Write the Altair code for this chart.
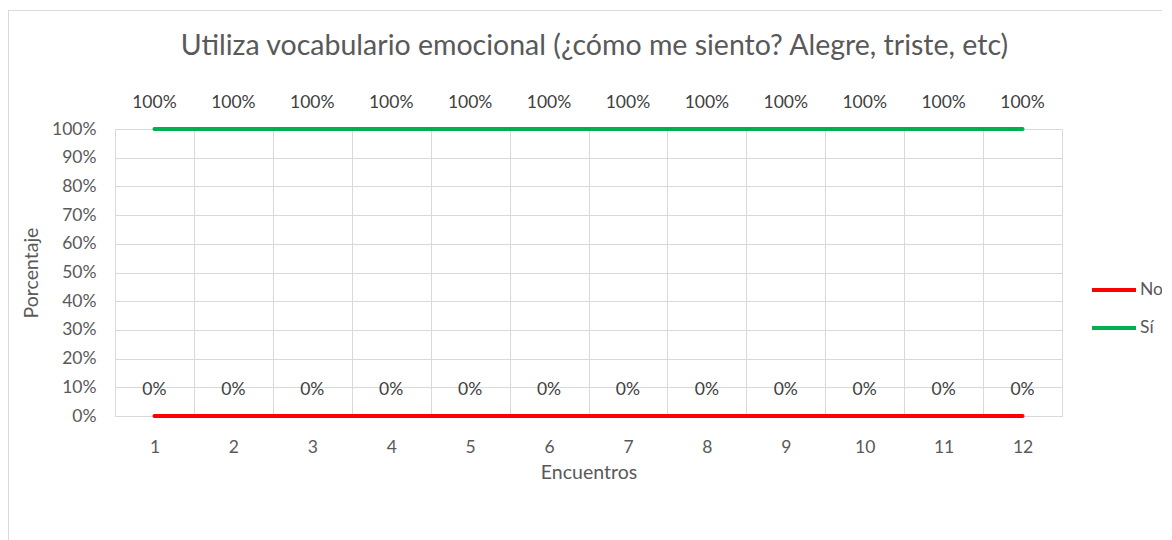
import altair as alt
import pandas as pd

encuentros = [1, 2, 3, 4, 5, 6, 7, 8, 9, 10, 11, 12]
no_vals = [0, 0, 0, 0, 0, 0, 0, 0, 0, 0, 0, 0]
si_vals = [1, 1, 1, 1, 1, 1, 1, 1, 1, 1, 1, 1]
series = ["No", "Sí"]
colors = ["#FF0000", "#00B050"]
y_ticks = [0.0, 0.1, 0.2, 0.3, 0.4, 0.5, 0.6, 0.7, 0.8, 0.9, 1.0]
title = "Utiliza vocabulario emocional (¿cómo me siento? Alegre, triste, etc)"

rows = []
for e, v in zip(encuentros, no_vals):
    rows.append({"Encuentros": e, "Serie": "No", "Valor": v})
for e, v in zip(encuentros, si_vals):
    rows.append({"Encuentros": e, "Serie": "Sí", "Valor": v})
df = pd.DataFrame(rows)

FONT = "Lato"
GRAY = "#595959"
GRID = "#D9D9D9"
LBL = 17.5
TTL = 19.5

x = alt.X("Encuentros:O", title="Encuentros",
          scale=alt.Scale(type="band", paddingInner=0, paddingOuter=0),
          axis=alt.Axis(labelAngle=0, ticks=False, grid=True, tickBand="extent",
                        gridColor=GRID, domainColor=GRID, labelColor=GRAY,
                        labelFontSize=LBL, labelFont=FONT, titleFont=FONT,
                        titleFontSize=TTL, titleColor=GRAY, titleFontWeight="normal",
                        labelPadding=22, titlePadding=8))
y = alt.Y("Valor:Q", title="Porcentaje",
          scale=alt.Scale(domain=[0, 1], nice=False),
          axis=alt.Axis(format=".0%", values=y_ticks, labelOverlap=False,
                        tickCount=11, ticks=False, domain=False, gridColor=GRID,
                        labelColor=GRAY, labelFontSize=LBL, labelFont=FONT,
                        titleFont=FONT, titleFontSize=TTL, titleColor=GRAY,
                        titleFontWeight="normal", labelPadding=19, titlePadding=10))
color = alt.Color("Serie:N", scale=alt.Scale(domain=series, range=colors),
                  legend=alt.Legend(title=None, orient="none", legendX=975, legendY=137,
                                    symbolType="stroke", symbolSize=1936,
                                    symbolStrokeWidth=4, labelFont=FONT,
                                    labelFontSize=LBL, labelColor=GRAY,
                                    labelOffset=2, rowPadding=5))

frame = alt.Chart(df).mark_rect(fill=None, stroke=GRID, strokeWidth=1).encode(
    x=alt.value(-106.5), x2=alt.value(1200), y=alt.value(-118.5), y2=alt.value(700))

lines = alt.Chart(df).mark_line(strokeWidth=4, strokeCap="round").encode(
    x=x, y=y, color=color, detail="Serie:N")

labels = alt.Chart(df).mark_text(dy=-26, fontSize=LBL, font=FONT, color="#404040").encode(
    x=x, y=y, text=alt.Text("Valor:Q", format=".0%"))

chart = alt.layer(frame, lines, labels).properties(
    width=947, height=287,
    title=alt.Title(title, fontSize=28.5, font=FONT, color=GRAY, fontWeight="normal",
                    anchor="middle", baseline="alphabetic", offset=-73, dx=6),
    autosize=alt.AutoSizeParams(type="none"),
    padding={"left": 107, "top": 121, "right": 100, "bottom": 140},
).configure_view(stroke=None)

chart.save("out.html", embed_options={"renderer": "svg", "actions": False})
